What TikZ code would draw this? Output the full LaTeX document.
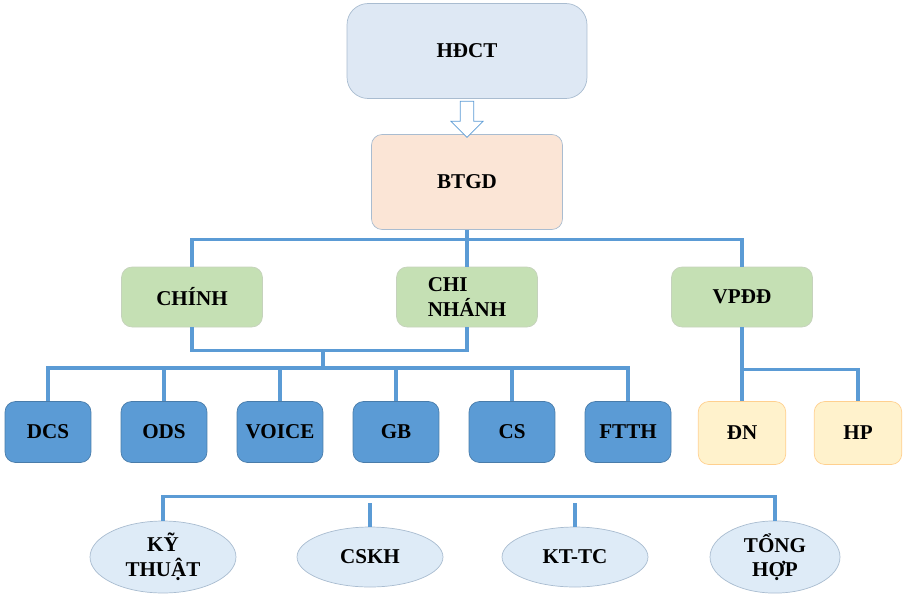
\documentclass[tikz,border=0pt]{standalone}
\usepackage{fontspec}
\setmainfont{Liberation Serif}
\usetikzlibrary{shapes.arrows,shapes.geometric}
\definecolor{linkblue}{HTML}{5B9BD5}
\definecolor{boxline}{HTML}{A9BCD0}
\definecolor{topfill}{HTML}{DEE8F4}
\definecolor{peachfill}{HTML}{FBE5D6}
\definecolor{greenfill}{HTML}{C5E0B4}
\definecolor{yellowfill}{HTML}{FFF2CC}
\definecolor{roomfill}{HTML}{DEEBF7}
\tikzset{
  box/.style={draw=boxline, rounded corners=6pt, font=\bfseries\large, align=left},
  topbox/.style={box, fill=topfill, minimum width=4.8cm, minimum height=1.9cm, rounded corners=12pt},
  peach/.style={box, fill=peachfill, minimum width=3.82cm, minimum height=1.9cm},
  unit/.style={box, draw=greenfill!80!black!60, fill=greenfill, minimum width=2.82cm, minimum height=1.2cm},
  dept/.style={box, draw=linkblue!80!black, fill=linkblue, minimum width=1.72cm, minimum height=1.22cm},
  office/.style={box, draw=yellowfill!70!orange, fill=yellowfill, minimum width=1.75cm, minimum height=1.26cm},
  room/.style={draw=boxline, ellipse, fill=roomfill, font=\bfseries\large, align=center, minimum width=2.92cm, minimum height=1.2cm, inner sep=1pt},
  link/.style={draw=linkblue, line width=2pt}
}
\begin{document}
\begin{tikzpicture}[x=0.02cm, y=-0.02cm]
  \useasboundingbox (0,0) rectangle (909,599);

  % top of the chart
  \node[topbox] (hdct) at (467,51) {HĐCT};
  \node[peach] (btgd) at (467,182) {BTGD};
  \node[single arrow, shape border rotate=270, draw=linkblue, fill=white, minimum height=0.72cm, minimum width=0.64cm, single arrow head extend=0.15cm, inner sep=0.1cm] (down) at (467,116) {};

  % units
  \node[unit] (chinh) at (192,297) {CHÍNH};
  \node[unit] (cn) at (467,297) {CHI\\NHÁNH};
  \node[unit] (vpdd) at (742,297) {VPĐĐ};

  % departments
  \node[dept] (dcs) at (48,432) {DCS};
  \node[dept] (ods) at (164,432) {ODS};
  \node[dept] (voice) at (280,432) {VOICE};
  \node[dept] (gb) at (396,432) {GB};
  \node[dept] (cs) at (512,432) {CS};
  \node[dept] (ftth) at (628,432) {FTTH};
  \node[office] (dn) at (742,433) {ĐN};
  \node[office] (hp) at (858,433) {HP};

  % rooms
  \node[room] (kt) at (163,557) {KỸ\\THUẬT};
  \node[room] (cskh) at (370,557) {CSKH};
  \node[room] (kttc) at (575,557) {KT-TC};
  \node[room, minimum width=2.6cm] (th) at (775,557) {TỔNG\\HỢP};

  \draw[link] (btgd.south) -- (cn.north);
  \draw[link] (chinh.north) -- ++(0,-27) -| (vpdd.north);
  \draw[link] (chinh.south) -- ++(0,23) -| (cn.south);
  \coordinate (mid) at (323,350);
  \draw[link] (mid) -- ++(0,19);
  \draw[link] (dcs.north) -- ++(0,-33) -| (ftth.north);
  \foreach \n in {ods,voice,gb,cs}
    \draw[link] (\n.north) -- ++(0,-33);
  \draw[link] (vpdd.south) -- ++(0,42) -| (hp.north);
  \draw[link] (vpdd.south) -- (dn.north);
  \draw[link] (kt.north) -- ++(0,-24) -| (th.north);
  \foreach \n in {cskh,kttc}
    \draw[link] (\n.north) -- ++(0,-24);
\end{tikzpicture}
\end{document}
